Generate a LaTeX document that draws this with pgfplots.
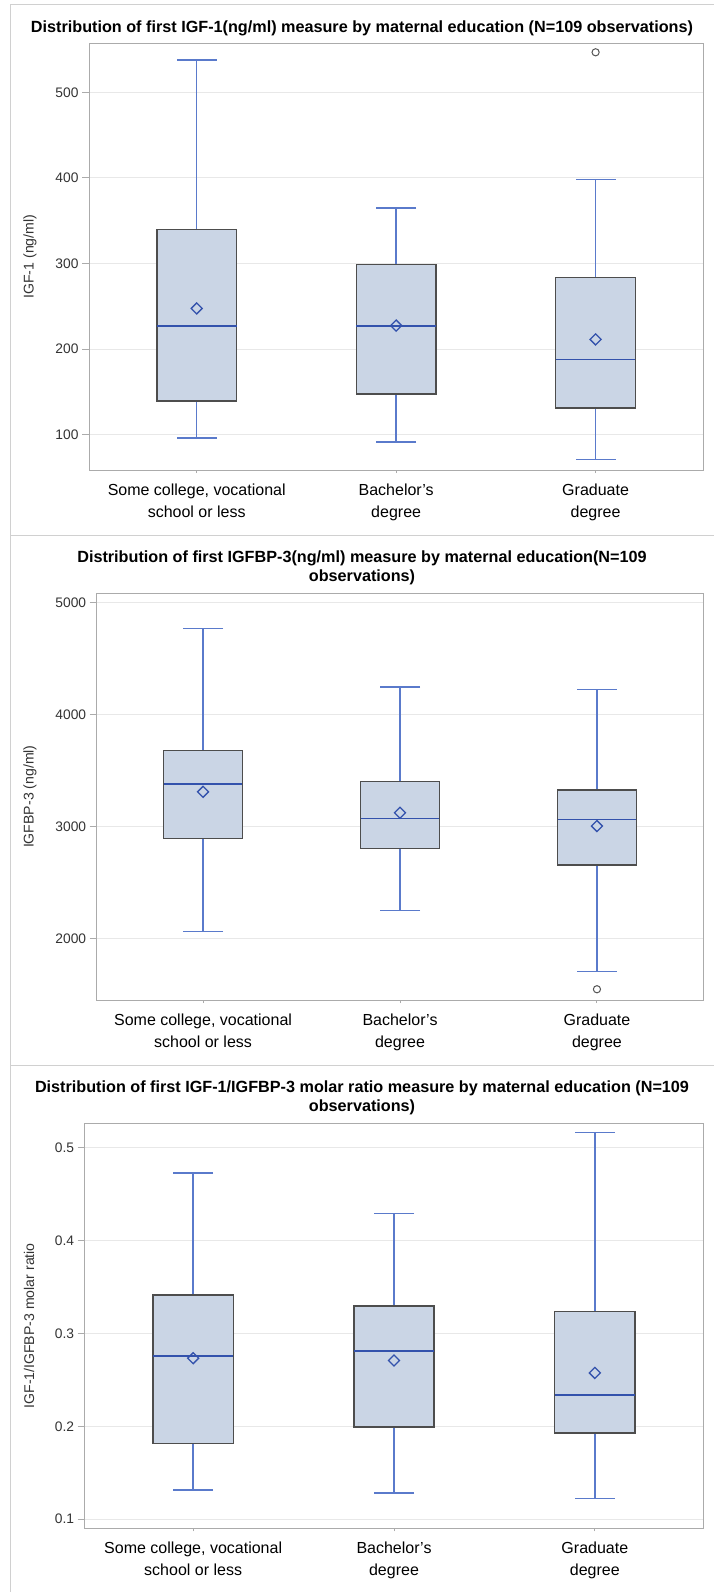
\documentclass[border=0pt]{standalone}
\usepackage{fontspec}
\setmainfont{Liberation Sans}
\usepackage{pgfplots}
\pgfplotsset{compat=1.18}

\definecolor{boxfill}{HTML}{CAD5E5}
\definecolor{boxline}{HTML}{4D4D4D}
\definecolor{whisk}{HTML}{5A7ACB}
\definecolor{medline}{HTML}{3352AC}
\definecolor{meanmk}{HTML}{3352AC}
\definecolor{outmk}{HTML}{555555}
\definecolor{gridc}{HTML}{E8E8E8}
\definecolor{framec}{HTML}{ABABAB}
\definecolor{cellc}{HTML}{D0D0D0}
\definecolor{labc}{HTML}{333333}

\pgfplotsset{
  sasbox/.style={
    scale only axis,
    anchor=south west,
    xmin=-0.54, xmax=2.54,
    xtick={0,1,2},
    xticklabels={{Some college, vocational\\school or less},{Bachelor's\\degree},{Graduate\\degree}},
    xticklabel style={align=center, font=\fontsize{16}{22}\selectfont, text=black, yshift=-3pt},
    yticklabel style={font=\fontsize{13.8}{16}\selectfont, text=labc},
    ylabel style={font=\fontsize{14.1}{17}\selectfont, text=labc, anchor=center},
    /pgf/number format/assume math mode=true,
    ymajorgrids,
    grid style={gridc, line width=1pt},
    axis line style={framec, line width=1pt},
    tick style={framec, line width=1pt},
    tick align=outside,
    tick pos=left,
    major tick length=7pt,
    xtick style={/pgfplots/major tick length=3pt},
  },
  % box body: quartile to quartile
  boxst/.style={draw=boxline, fill=boxfill, line width=1.5pt},
  % whisker with a cap at its outer end
  whiskst/.style={draw=whisk, line width=1.4pt, mark=-, mark size=20pt,
    mark indices={2}, mark options={draw=whisk, line width=1.4pt}},
  medst/.style={draw=medline, line width=1.4pt, mark=none},
  meanmarks/.style={only marks, mark=square, mark size=3.9pt,
    mark options={rotate=45, draw=meanmk, line width=1.3pt, fill=none}},
  outmarks/.style={only marks, mark=o, mark size=3.6pt,
    mark options={draw=outmk, line width=1pt}},
}

\begin{document}
\begin{tikzpicture}
\path[use as bounding box, fill=white] (0pt,0pt) rectangle (714pt,-1592pt);

% cell borders
\draw[cellc, line width=1pt] (10pt,-1592pt) -- (10pt,-5pt) -- (714pt,-5pt);
\draw[cellc, line width=1pt] (10pt,-535pt) -- (714pt,-535pt);
\draw[cellc, line width=1pt] (10pt,-1065pt) -- (714pt,-1065pt);

% ---------------- IGF-1 ----------------
\begin{axis}[sasbox,
  at={(89pt,-470pt)}, width=614.3pt, height=426.7pt,
  ymin=58.8, ymax=557.2, ytick={100,200,300,400,500},
  ylabel={IGF-1 (ng/ml)},
  ylabel style={at={(axis description cs:-0.096,0.5)}},
]
% Some college, vocational school or less
\addplot[whiskst] coordinates {(0,339.7) (0,537.7)};
\addplot[whiskst] coordinates {(0,139.4) (0,96.1)};
\addplot[boxst] coordinates {(-0.2,139.4) (0.2,139.4) (0.2,339.7) (-0.2,339.7)} -- cycle;
\addplot[medst] coordinates {(-0.2,226.9) (0.2,226.9)};
% Bachelor's degree
\addplot[whiskst] coordinates {(1,298.8) (1,364.6)};
\addplot[whiskst] coordinates {(1,147.5) (1,91.5)};
\addplot[boxst] coordinates {(0.8,147.5) (1.2,147.5) (1.2,298.8) (0.8,298.8)} -- cycle;
\addplot[medst] coordinates {(0.8,226.9) (1.2,226.9)};
% Graduate degree
\addplot[whiskst] coordinates {(2,283.6) (2,398.0)};
\addplot[whiskst] coordinates {(2,131.2) (2,70.8)};
\addplot[boxst] coordinates {(1.8,131.2) (2.2,131.2) (2.2,283.6) (1.8,283.6)} -- cycle;
\addplot[medst] coordinates {(1.8,188.0) (2.2,188.0)};
\addplot[meanmarks] coordinates {(0,247.5) (1,227.5) (2,211.3)};
\addplot[outmarks] coordinates {(2,546.7)};
\end{axis}

% ---------------- IGFBP-3 ----------------
\begin{axis}[sasbox,
  at={(96.7pt,-1000pt)}, width=606.6pt, height=406.7pt,
  ymin=1456, ymax=5080, ytick={2000,3000,4000,5000},
  /pgf/number format/1000 sep={},
  ylabel={IGFBP-3 (ng/ml)},
  ylabel style={at={(axis description cs:-0.110,0.5)}},
]
\addplot[whiskst] coordinates {(0,3679) (0,4768)};
\addplot[whiskst] coordinates {(0,2893) (0,2069)};
\addplot[boxst] coordinates {(-0.2,2893) (0.2,2893) (0.2,3679) (-0.2,3679)} -- cycle;
\addplot[medst] coordinates {(-0.2,3380) (0.2,3380)};
\addplot[whiskst] coordinates {(1,3403) (1,4244)};
\addplot[whiskst] coordinates {(1,2804) (1,2252)};
\addplot[boxst] coordinates {(0.8,2804) (1.2,2804) (1.2,3403) (0.8,3403)} -- cycle;
\addplot[medst] coordinates {(0.8,3071) (1.2,3071)};
\addplot[whiskst] coordinates {(2,3327) (2,4223)};
\addplot[whiskst] coordinates {(2,2659) (2,1709)};
\addplot[boxst] coordinates {(1.8,2659) (2.2,2659) (2.2,3327) (1.8,3327)} -- cycle;
\addplot[medst] coordinates {(1.8,3062) (2.2,3062)};
\addplot[meanmarks] coordinates {(0,3311) (1,3125) (2,3006)};
\addplot[outmarks] coordinates {(2,1552)};
\end{axis}

% ---------------- molar ratio ----------------
\begin{axis}[sasbox,
  at={(84.7pt,-1528.3pt)}, width=618.6pt, height=405pt,
  ymin=0.090, ymax=0.5266, ytick={0.1,0.2,0.3,0.4,0.5},
  yticklabel style={/pgf/number format/fixed, /pgf/number format/precision=1},
  ylabel={IGF-1/IGFBP-3 molar ratio},
  ylabel style={at={(axis description cs:-0.090,0.5)}},
]
\addplot[whiskst] coordinates {(0,0.3416) (0,0.473)};
\addplot[whiskst] coordinates {(0,0.1817) (0,0.1313)};
\addplot[boxst] coordinates {(-0.2,0.1817) (0.2,0.1817) (0.2,0.3416) (-0.2,0.3416)} -- cycle;
\addplot[medst] coordinates {(-0.2,0.2758) (0.2,0.2758)};
\addplot[whiskst] coordinates {(1,0.3298) (1,0.4291)};
\addplot[whiskst] coordinates {(1,0.1993) (1,0.128)};
\addplot[boxst] coordinates {(0.8,0.1993) (1.2,0.1993) (1.2,0.3298) (0.8,0.3298)} -- cycle;
\addplot[medst] coordinates {(0.8,0.2812) (1.2,0.2812)};
\addplot[whiskst] coordinates {(2,0.3237) (2,0.517)};
\addplot[whiskst] coordinates {(2,0.1928) (2,0.1219)};
\addplot[boxst] coordinates {(1.8,0.1928) (2.2,0.1928) (2.2,0.3237) (1.8,0.3237)} -- cycle;
\addplot[medst] coordinates {(1.8,0.2337) (2.2,0.2337)};
\addplot[meanmarks] coordinates {(0,0.2734) (1,0.2709) (2,0.2575)};
\end{axis}

% titles
\begin{scope}[every node/.style={font=\bfseries\fontsize{16.2}{19.5}\selectfont, align=center}]
\node at (362pt,-28pt) {Distribution of first IGF-1(ng/ml) measure by maternal education (N=109 observations)};
\node at (362pt,-568pt) {Distribution of first IGFBP-3(ng/ml) measure by maternal education(N=109\\observations)};
\node at (362pt,-1098pt) {Distribution of first IGF-1/IGFBP-3 molar ratio measure by maternal education (N=109\\observations)};
\end{scope}
\end{tikzpicture}
\end{document}
